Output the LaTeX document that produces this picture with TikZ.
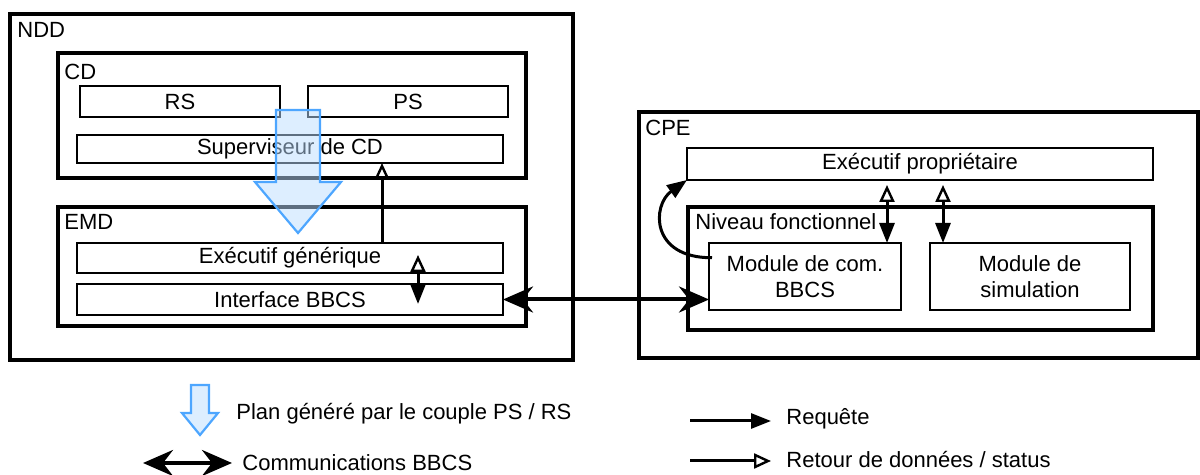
\documentclass[tikz,border=0pt]{standalone}
\usepackage{fontspec}
\setmainfont{Liberation Sans}
\usetikzlibrary{arrows.meta,calc}
\begin{document}
\begin{tikzpicture}[x=0.5pt,y=-0.5pt,
  every node/.style={font=\fontsize{11pt}{13pt}\selectfont},
  thickbox/.style={draw, line width=1.6pt, inner sep=0pt, outer sep=0pt},
  thinbox/.style={draw, line width=0.8pt, inner sep=0pt, outer sep=0pt, align=center},
  lbl/.style={anchor=west, inner sep=0pt},
  req/.style={line width=1.5pt, -{Triangle[length=10pt,width=7.5pt]}},
  ret/.style={line width=1.5pt, -{Triangle[open,length=8.5pt,width=7.5pt,line width=1.2pt]}},
  dbl/.style={line width=1.5pt, {Triangle[open,length=8.5pt,width=7.5pt,line width=1.2pt]}-{Triangle[length=10pt,width=7.5pt]}},
  bbcs/.style={line width=2pt, {Stealth[length=15pt,width=13pt,inset=5pt]}-{Stealth[length=15pt,width=13pt,inset=5pt]}},
  plan/.style={draw={rgb,255:red,77;green,166;blue,255}, line width=1.1pt, line join=miter,
    fill={rgb,255:red,187;green,221;blue,255}, fill opacity=0.5}
]
\useasboundingbox (0,0) rectangle (1200,475);

% NDD side
\node[thickbox, minimum width=281.5pt, minimum height=173pt] (NDD) at (291.5,187) {};
\node[lbl] (NDDl) at (17,30) {NDD};
\node[thickbox, minimum width=234pt, minimum height=62.5pt] (CD) at (292,115.5) {};
\node[lbl] (CDl) at (64,72) {CD};
\node[thinbox, minimum width=100pt, minimum height=15.5pt] (RS) at (180,101.5) {RS};
\node[thinbox, minimum width=100pt, minimum height=15.5pt] (PS) at (408,101.5) {PS};
\node[thinbox, minimum width=213pt, minimum height=14pt] (Sup) at (290,149) {Superviseur de CD};
\node[thickbox, minimum width=234pt, minimum height=59.5pt] (EMD) at (292,266.5) {};
\node[lbl] (EMDl) at (64,222) {EMD};
\node[thinbox, minimum width=213pt, minimum height=15pt] (ExG) at (290,258) {Exécutif générique};
\node[thinbox, minimum width=213pt, minimum height=15.5pt] (IB) at (290,299.5) {Interface BBCS};

% CPE side
\node[thickbox, minimum width=279.5pt, minimum height=123pt] (CPE) at (918.5,235) {};
\node[lbl] (CPEl) at (645,128) {CPE};
\node[thinbox, minimum width=233pt, minimum height=16pt] (ExP) at (920,164) {Exécutif propriétaire};
\node[thickbox, minimum width=232.5pt, minimum height=61.5pt] (NF) at (920.5,268.5) {};
\node[lbl] (NFl) at (695,222) {Niveau fonctionnel};
\node[thinbox, minimum width=96pt, minimum height=33.5pt] (MC) at (805,276.5) {Module de com.\\BBCS};
\node[thinbox, minimum width=100pt, minimum height=33.5pt] (MS) at (1030,276.5) {Module de\\simulation};

% helper coordinates
\coordinate (x382) at (382,0);
\coordinate (x887) at (887,0);
\coordinate (x943) at (943,0);
\coordinate (a1) at (418,255);
\coordinate (a2) at (418,304);

% connectors
\draw[ret] (ExG.north -| x382) -- (Sup.south -| x382);
\draw[dbl] (a1) -- (a2);
\draw[bbcs] (IB.east) -- (IB.east -| MC.west);
\draw[dbl] ([yshift=-2.5pt]ExP.south -| x887) -- (MC.north -| x887);
\draw[dbl] ([yshift=-2.5pt]ExP.south -| x943) -- (MS.north -| x943);
\draw[req] ($(MC.north west)!0.22!(MC.south west)+(1.5pt,0)$) .. controls (650,258) and (652,205) .. (ExP.south west);

% big plan arrow
\path[plan] (276,110) -- (320,110) -- (320,182) -- (341,182) -- (298,233) -- (255,182) -- (276,182) -- cycle;

% legend
\path[plan] (191,385) -- (209,385) -- (209,413) -- (218,413) -- (200,435) -- (182,413) -- (191,413) -- cycle;
\node[lbl] (L1) at (236,414) {Plan généré par le couple PS / RS};
\coordinate (l2a) at (143,463);
\coordinate (l2b) at (232,463);
\draw[bbcs] (l2a) -- (l2b);
\node[lbl] (L2) at (242,463) {Communications BBCS};
\coordinate (l3a) at (690,421);
\coordinate (l3b) at (771,421);
\draw[req] (l3a) -- (l3b);
\node[lbl] (L3) at (786,419) {Requête};
\coordinate (l4a) at (690,461);
\coordinate (l4b) at (771,461);
\draw[ret] (l4a) -- (l4b);
\node[lbl] (L4) at (786,460) {Retour de données / status};
\end{tikzpicture}
\end{document}
